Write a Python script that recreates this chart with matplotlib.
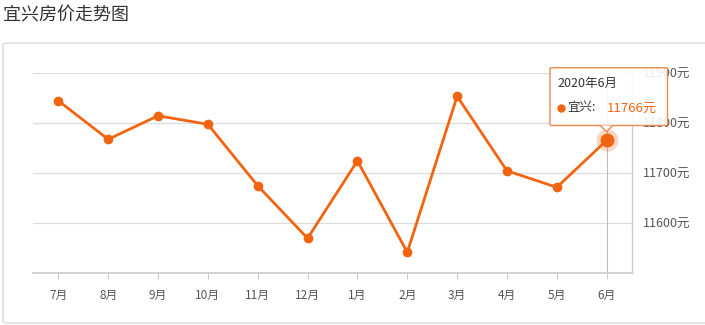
import matplotlib
matplotlib.use("Agg")
import matplotlib.pyplot as plt
from matplotlib.patches import FancyBboxPatch, Polygon
from matplotlib.lines import Line2D
import numpy as np

plt.rcParams['font.family'] = ['Noto Sans CJK SC', 'DejaVu Sans']

# ================================
# Data
# ================================
months = ["7月", "8月", "9月", "10月", "11月", "12月", "1月", "2月", "3月", "4月", "5月", "6月"]
prices = [11845, 11768, 11815, 11798, 11675, 11570, 11725, 11542, 11854, 11705, 11672, 11766]
y_ticks = [11600, 11700, 11800, 11900]
tip_title = "2020年6月"
city = "宜兴"

W, H = 705, 325
orange = "#f26510"
grid_c = "#dcdcdc"
text_c = "#555555"

fig = plt.figure(figsize=(W / 100, H / 100), dpi=100)

def fx(x):
    return x / W

def fy(y):
    return 1 - y / H

# outer panel (behind everything)
panel = FancyBboxPatch((fx(3), fy(323)), fx(720) - fx(3), fy(43) - fy(323),
                       boxstyle="round,pad=0,rounding_size=0.006",
                       transform=fig.transFigure, facecolor="white",
                       edgecolor="#d9d9d9", linewidth=1.0, zorder=-10)
fig.add_artist(panel)

fig.text(fx(3), fy(15), "宜兴房价走势图", fontsize=13, color="#333333",
         ha="left", va="center")

ax = fig.add_axes([fx(33.4), fy(273.3), fx(631.6) - fx(33.4), fy(73.3) - fy(273.3)])
ax.patch.set_alpha(0)

x = np.arange(len(months))
ax.plot(x, prices, color=orange, linewidth=2.0, marker="o", markersize=6,
        zorder=3, clip_on=False)

# highlighted last point
hi = len(prices) - 1
ax.axvline(x[hi], color="#bbbbbb", linewidth=0.8, zorder=1)
ax.plot(x[hi], prices[hi], "o", color=orange, alpha=0.25, markersize=16, zorder=4,
        markeredgewidth=0, clip_on=False)
ax.plot(x[hi], prices[hi], "o", color=orange, markersize=9, zorder=5, clip_on=False)

ax.set_xlim(-0.5, len(months) - 0.5)
ax.set_ylim(11500, 11900)
ax.set_xticks(x)
ax.set_xticklabels(months)
ax.set_yticks(y_ticks)
ax.set_yticklabels([f"{v}元" for v in y_ticks])
ax.yaxis.tick_right()
ax.grid(axis="y", color=grid_c, linewidth=0.9)
ax.set_axisbelow(True)

for s in ["top", "left"]:
    ax.spines[s].set_visible(False)
ax.spines["bottom"].set_color("#cccccc")
ax.spines["bottom"].set_linewidth(1.2)
ax.spines["right"].set_color("#cccccc")
ax.spines["right"].set_linewidth(1.0)

ax.tick_params(axis="x", length=4, color="#cccccc", labelsize=8.5, labelcolor=text_c, pad=7)
ax.tick_params(axis="y", length=0, labelsize=9, labelcolor=text_c, pad=8)

# tooltip (slightly see-through, like the original)
tip = FancyBboxPatch((fx(550), fy(125.5)), fx(667.5) - fx(550), fy(67.7) - fy(125.5),
                     boxstyle="round,pad=0,rounding_size=0.003",
                     transform=fig.transFigure, facecolor=(1, 1, 1, 0.88),
                     edgecolor="#f08a4b", linewidth=1.0, zorder=10)
fig.add_artist(tip)
arrow = Polygon([(fx(600), fy(125.5)), (fx(606.5), fy(131.5)), (fx(613), fy(125.5))],
                closed=False, transform=fig.transFigure, facecolor="white",
                edgecolor="#f08a4b", linewidth=1.0, zorder=11)
fig.add_artist(arrow)
fig.text(fx(557), fy(83), tip_title, fontsize=9, color="#333333", ha="left",
         va="center", zorder=12)
fig.add_artist(Line2D([fx(560.5)], [fy(108)], marker="o", markersize=5, color=orange,
                      linestyle="none", transform=fig.transFigure, zorder=12))
fig.text(fx(567), fy(108), f"{city}:", fontsize=9, color="#333333", ha="left",
         va="center", zorder=12)
fig.text(fx(607), fy(108), f"{prices[hi]}元", fontsize=9.5, color=orange, ha="left",
         va="center", zorder=12)

fig.savefig("out.png", dpi=100)
